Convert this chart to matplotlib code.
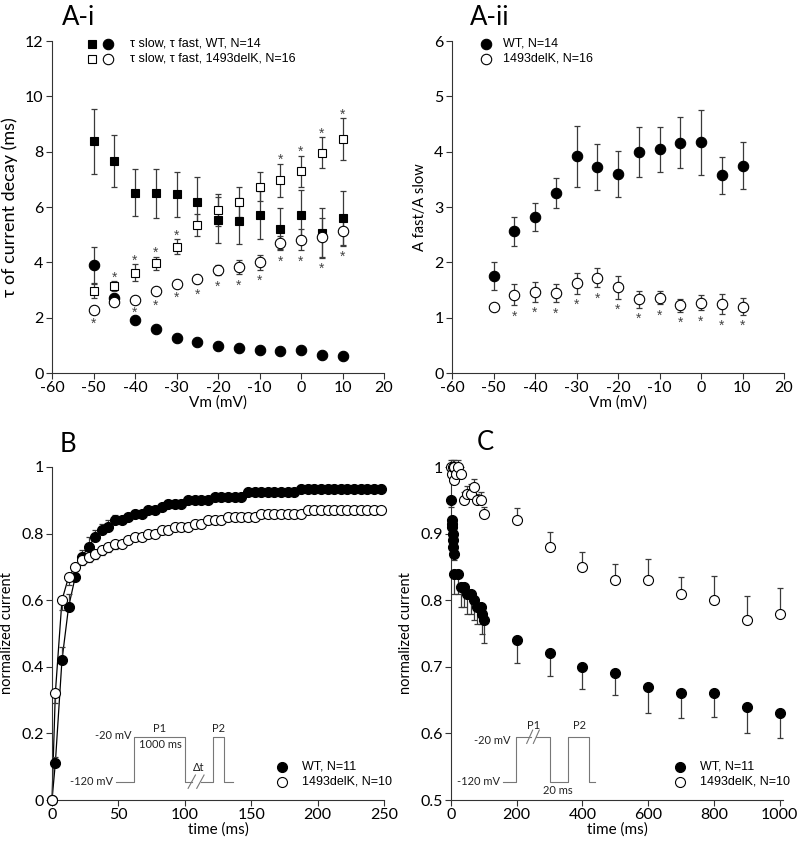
import numpy as np
import matplotlib.pyplot as plt
from matplotlib.ticker import FuncFormatter

# ---- A-i / A-ii : kinetics vs membrane potential ----
vm = [-50, -45, -40, -35, -30, -25, -20, -15, -10, -5, 0, 5, 10]

wt_slow = [8.37, 7.66, 6.52, 6.49, 6.46, 6.18, 5.52, 5.50, 5.71, 5.22, 5.71, 5.05, 5.59]
wt_slow_err = [1.16, 0.94, 0.84, 0.90, 0.81, 0.92, 0.83, 0.84, 0.87, 0.73, 0.89, 0.90, 1.00]
wt_fast = [3.91, 2.70, 1.92, 1.58, 1.26, 1.13, 0.98, 0.90, 0.83, 0.78, 0.83, 0.66, 0.62]
wt_fast_err = [0.66, 0.15, 0.08, 0.06, 0.05, 0.05, 0.04, 0.04, 0.03, 0.03, 0.03, 0.03, 0.03]
dk_slow = [2.97, 3.16, 3.63, 3.96, 4.56, 5.35, 5.89, 6.17, 6.73, 6.96, 7.29, 7.96, 8.46]
dk_slow_err = [0.25, 0.18, 0.30, 0.25, 0.27, 0.40, 0.57, 0.54, 0.53, 0.61, 0.57, 0.56, 0.77]
dk_fast = [2.27, 2.56, 2.65, 2.97, 3.23, 3.40, 3.71, 3.83, 4.00, 4.69, 4.81, 4.90, 5.13]
dk_fast_err = [0.08, 0.08, 0.05, 0.12, 0.10, 0.15, 0.18, 0.26, 0.26, 0.26, 0.38, 0.70, 0.52]
sig_slow = [0, 1, 1, 1, 1, 0, 0, 0, 0, 1, 1, 1, 1]
sig_fast = [1, 0, 1, 1, 1, 1, 1, 1, 1, 1, 1, 1, 1]

wt_ratio = [1.75, 2.56, 2.82, 3.25, 3.92, 3.72, 3.60, 3.99, 4.04, 4.16, 4.17, 3.57, 3.75]
wt_ratio_err = [0.25, 0.26, 0.25, 0.27, 0.55, 0.42, 0.42, 0.45, 0.40, 0.46, 0.59, 0.34, 0.43]
dk_ratio = [1.19, 1.41, 1.47, 1.44, 1.62, 1.72, 1.55, 1.33, 1.36, 1.22, 1.27, 1.24, 1.20]
dk_ratio_err = [0.05, 0.19, 0.18, 0.16, 0.19, 0.17, 0.21, 0.15, 0.12, 0.11, 0.14, 0.18, 0.15]
sig_ratio = [0, 1, 1, 1, 1, 1, 1, 1, 1, 1, 1, 1, 1]

# ---- B : recovery from inactivation ----
b_time = np.r_[0, np.arange(2.5, 250, 5)]
b_wt = [0.00, 0.11, 0.42, 0.58, 0.67, 0.73, 0.76, 0.79, 0.81, 0.82,
        0.84, 0.84, 0.85, 0.86, 0.86, 0.87, 0.87, 0.88, 0.89, 0.89,
        0.89, 0.90, 0.90, 0.90, 0.90, 0.91, 0.91, 0.91, 0.91, 0.91,
        0.925, 0.925, 0.925, 0.925, 0.925, 0.925, 0.925, 0.925, 0.935, 0.935,
        0.935, 0.935, 0.935, 0.935, 0.935, 0.935, 0.935, 0.935, 0.935, 0.935,
        0.935]
b_wt_err = [0.0, 0.02, 0.04, 0.04, 0.02, 0.02, 0.03, 0.02, 0.02, 0.02,
            0.015, 0.01, 0.01, 0.01, 0.01, 0.01, 0.01, 0.01, 0.01, 0.01,
            0.01, 0.01, 0.01, 0.01, 0.01, 0.01, 0.01, 0.01, 0.01, 0.01,
            0.01, 0.01, 0.01, 0.01, 0.01, 0.01, 0.01, 0.01, 0.01, 0.01,
            0.01, 0.01, 0.01, 0.01, 0.01, 0.01, 0.01, 0.01, 0.01, 0.01,
            0.01]
b_dk = [0.00, 0.32, 0.60, 0.67, 0.70, 0.72, 0.73, 0.74, 0.75, 0.76,
        0.77, 0.77, 0.78, 0.79, 0.79, 0.80, 0.80, 0.81, 0.81, 0.82,
        0.82, 0.82, 0.83, 0.83, 0.84, 0.84, 0.84, 0.85, 0.85, 0.85,
        0.85, 0.85, 0.86, 0.86, 0.86, 0.86, 0.86, 0.86, 0.86, 0.87,
        0.87, 0.87, 0.87, 0.87, 0.87, 0.87, 0.87, 0.87, 0.87, 0.87,
        0.87]
b_dk_err = [0.0, 0.03, 0.03, 0.025, 0.02, 0.015, 0.015, 0.015, 0.015, 0.015,
            0.015, 0.01, 0.01, 0.01, 0.01, 0.01, 0.01, 0.01, 0.01, 0.01,
            0.01, 0.01, 0.01, 0.01, 0.01, 0.01, 0.01, 0.01, 0.01, 0.01,
            0.01, 0.01, 0.01, 0.01, 0.01, 0.01, 0.01, 0.01, 0.01, 0.01,
            0.01, 0.01, 0.01, 0.01, 0.01, 0.01, 0.01, 0.01, 0.01, 0.01,
            0.01]

# ---- C : development of slow inactivation ----
c_wt_time = [1, 2, 3, 4, 5, 6, 7, 8, 10, 20, 30, 40, 50, 60, 70, 80, 90, 95, 100,
             200, 300, 400, 500, 600, 700, 800, 900, 1000]
c_wt = [0.95, 0.92, 0.915, 0.91, 0.90, 0.89, 0.88, 0.87, 0.84, 0.84, 0.82, 0.82, 0.81,
        0.81, 0.80, 0.79, 0.79, 0.78, 0.77,
        0.74, 0.72, 0.70, 0.69, 0.67, 0.66, 0.66, 0.64, 0.63]
c_wt_err = [0.01, 0.01, 0.01, 0.01, 0.01, 0.01, 0.01, 0.01, 0.03, 0.03, 0.03, 0.03, 0.03,
            0.03, 0.03, 0.025, 0.025, 0.03, 0.035,
            0.034, 0.034, 0.033, 0.033, 0.039, 0.037, 0.036, 0.039, 0.037]
c_dk_time = [1, 2, 5, 8, 10, 15, 20, 30, 40, 50, 60, 70, 80, 90, 100,
             200, 300, 400, 500, 600, 700, 800, 900, 1000]
c_dk = [1.00, 0.99, 1.00, 0.98, 1.00, 0.99, 1.00, 0.99, 0.95, 0.96, 0.96, 0.97, 0.95, 0.95, 0.93,
        0.92, 0.88, 0.85, 0.83, 0.83, 0.81, 0.80, 0.77, 0.78]
c_dk_err = [0.01, 0.01, 0.01, 0.01, 0.01, 0.01, 0.01, 0.01, 0.012, 0.012, 0.015, 0.012, 0.01,
            0.012, 0.01,
            0.019, 0.022, 0.023, 0.024, 0.032, 0.025, 0.036, 0.036, 0.038]

AXIS_GREY = "#333333"
ERR_GREY = "#3a3a3a"
LEG_FAMILY = ["Liberation Sans", "DejaVu Sans"]
LEG_SIZE = 9

plt.rcParams.update({
    "font.family": ["Lato", "DejaVu Sans"],
    "font.size": 10,
    "axes.linewidth": 0.8,
    "axes.edgecolor": AXIS_GREY,
})

fmt_g = FuncFormatter(lambda v, _: f"{v:g}")


def style_axes(ax, xlim, ylim, xticks, yticks, xlabel, ylabel, ylabel_size=10.5):
    ax.spines[["top", "right"]].set_visible(False)
    ax.set_xlim(*xlim)
    ax.set_ylim(*ylim)
    ax.set_xticks(xticks)
    ax.set_yticks(yticks)
    ax.xaxis.set_major_formatter(fmt_g)
    ax.yaxis.set_major_formatter(fmt_g)
    ax.tick_params(direction="out", length=4, width=0.8, color=AXIS_GREY,
                   labelsize=11.5, pad=2)
    ax.set_xlabel(xlabel, fontsize=11, labelpad=0)
    ax.set_ylabel(ylabel, fontsize=ylabel_size, labelpad=5)


def err_points(ax, x, y, err, marker, filled, ms, lower=True, upper=True):
    e = np.asarray(err)
    z = np.zeros_like(e)
    yerr = [e if lower else z, e if upper else z]
    ax.errorbar(x, y, yerr=yerr, fmt="none", ecolor=ERR_GREY, elinewidth=0.9,
                capsize=2.2, capthick=0.9, zorder=2, clip_on=False)
    ax.plot(x, y, ls="none", marker=marker, ms=ms, mec="black", mew=0.8,
            mfc="black" if filled else "white", zorder=3, clip_on=False)


def stars(ax, x, y, err, flags, gap, above):
    for xi, yi, ei, f in zip(x, y, err, flags):
        if not f:
            continue
        ys = yi + ei + gap if above else yi - ei - gap
        ax.annotate("*", (xi, ys), xytext=(0, -3), textcoords="offset points",
                    ha="center", va="center", fontsize=10, color="#444444",
                    family=["Liberation Sans"])


def key(ax, rows, x_text):
    # rows: (y, [(x, marker, filled, ms), ...], label) in axes fraction
    for y, marks, label in rows:
        for x, marker, filled, ms in marks:
            ax.plot([x], [y], transform=ax.transAxes, ls="none", marker=marker,
                    ms=ms, mec="black", mew=0.8,
                    mfc="black" if filled else "white", clip_on=False)
        ax.text(x_text, y, label, transform=ax.transAxes, va="center", ha="left",
                fontsize=LEG_SIZE, family=LEG_FAMILY)


def protocol(ax, paths, labels):
    for p in paths:
        xs, ys = zip(*p)
        ax.plot(xs, ys, transform=ax.transAxes, color="#777777", lw=0.8,
                clip_on=False, zorder=1)
    for x, y, s, ha in labels:
        ax.text(x, y, s, transform=ax.transAxes, ha=ha, va="center",
                fontsize=8, color="#222222")


fig = plt.figure(figsize=(7.99, 8.44), dpi=100)
W, H = 799, 844
ax_a1 = fig.add_axes([52 / W, 1 - 373 / H, 332 / W, 332 / H])
ax_a2 = fig.add_axes([452 / W, 1 - 373 / H, 332 / W, 332 / H])
ax_b = fig.add_axes([52 / W, 1 - 800 / H, 332 / W, 333 / H])
ax_c = fig.add_axes([451 / W, 1 - 800 / H, 332 / W, 333 / H])

# ---- A-i ----
err_points(ax_a1, vm, wt_slow, wt_slow_err, "s", True, 6.2)
err_points(ax_a1, vm, dk_slow, dk_slow_err, "s", False, 6.2)
err_points(ax_a1, vm, wt_fast, wt_fast_err, "o", True, 7.5)
err_points(ax_a1, vm, dk_fast, dk_fast_err, "o", False, 7.5)
stars(ax_a1, vm, dk_slow, dk_slow_err, sig_slow, 0.27, True)
stars(ax_a1, vm, dk_fast, dk_fast_err, sig_fast, 0.27, False)
style_axes(ax_a1, (-60, 20), (0, 12), range(-60, 21, 10), range(0, 13, 2),
           "Vm (mV)", "τ of current decay (ms)", ylabel_size=13)
key(ax_a1,
    [(0.991, [(0.1205, "s", True, 6.2), (0.1687, "o", True, 7.5)],
      "τ slow, τ fast, WT, N=14"),
     (0.946, [(0.1205, "s", False, 6.2), (0.1687, "o", False, 7.5)],
      "τ slow, τ fast, 1493delK, N=16")],
    0.235)

# ---- A-ii ----
err_points(ax_a2, vm, wt_ratio, wt_ratio_err, "o", True, 7.5)
err_points(ax_a2, vm, dk_ratio, dk_ratio_err, "o", False, 7.5)
stars(ax_a2, vm, dk_ratio, dk_ratio_err, sig_ratio, 0.13, False)
style_axes(ax_a2, (-60, 20), (0, 6), range(-60, 21, 10), range(0, 7, 1),
           "Vm (mV)", "A fast/A slow")
key(ax_a2,
    [(0.991, [(0.1024, "o", True, 7.5)], "WT, N=14"),
     (0.946, [(0.1024, "o", False, 7.5)], "1493delK, N=16")],
    0.1536)

# ---- B ----
ax_b.plot(b_time, b_wt, color="black", lw=0.9, zorder=2, clip_on=False)
ax_b.plot(b_time, b_dk, color="black", lw=0.9, zorder=2, clip_on=False)
err_points(ax_b, b_time, b_wt, b_wt_err, "o", True, 7.2, lower=False)
err_points(ax_b, b_time, b_dk, b_dk_err, "o", False, 7.2, upper=False)
style_axes(ax_b, (0, 250), (0, 1), range(0, 251, 50), np.arange(0, 1.01, 0.2),
           "time (ms)", "normalized current")
key(ax_b,
    [(0.100, [(0.692, "o", True, 7.2)], "WT, N=11"),
     (0.055, [(0.692, "o", False, 7.2)], "1493delK, N=10")],
    0.752)
protocol(ax_b,
         [[(0.192, 0.055), (0.248, 0.055), (0.248, 0.19), (0.40, 0.19),
           (0.40, 0.055), (0.422, 0.055)],
          [(0.410, 0.035), (0.432, 0.075)],
          [(0.436, 0.035), (0.458, 0.075)],
          [(0.448, 0.055), (0.484, 0.055), (0.484, 0.19), (0.518, 0.19),
           (0.518, 0.055), (0.544, 0.055)]],
         [(0.185, 0.055, "-120 mV", "right"),
          (0.24, 0.195, "-20 mV", "right"),
          (0.325, 0.214, "P1", "center"),
          (0.325, 0.168, "1000 ms", "center"),
          (0.442, 0.097, "Δt", "center"),
          (0.50, 0.214, "P2", "center")])

# ---- C ----
err_points(ax_c, c_wt_time, c_wt, c_wt_err, "o", True, 7.2, upper=False)
err_points(ax_c, c_dk_time, c_dk, c_dk_err, "o", False, 7.2, lower=False)
style_axes(ax_c, (0, 1010), (0.5, 1.0), range(0, 1001, 200),
           np.arange(0.5, 1.01, 0.1), "time (ms)", "normalized current")
key(ax_c,
    [(0.100, [(0.689, "o", True, 7.2)], "WT, N=11"),
     (0.055, [(0.689, "o", False, 7.2)], "1493delK, N=10")],
    0.750)
protocol(ax_c,
         [[(0.157, 0.055), (0.195, 0.055), (0.195, 0.19), (0.240, 0.19)],
          [(0.228, 0.17), (0.246, 0.21)],
          [(0.248, 0.17), (0.266, 0.21)],
          [(0.256, 0.19), (0.298, 0.19), (0.298, 0.055), (0.353, 0.055),
           (0.353, 0.19), (0.415, 0.19), (0.415, 0.055), (0.433, 0.055)]],
         [(0.148, 0.055, "-120 mV", "right"),
          (0.178, 0.18, "-20 mV", "right"),
          (0.248, 0.224, "P1", "center"),
          (0.388, 0.224, "P2", "center"),
          (0.323, 0.028, "20 ms", "center")])

# panel letters
for x, y, s in [(62, 25, "A-i"), (470, 25, "A-ii"), (60, 452, "B"), (477, 450, "C")]:
    fig.text(x / W, 1 - y / H, s, fontsize=18.5, va="baseline", ha="left")

fig.savefig("out.png", dpi=100)
